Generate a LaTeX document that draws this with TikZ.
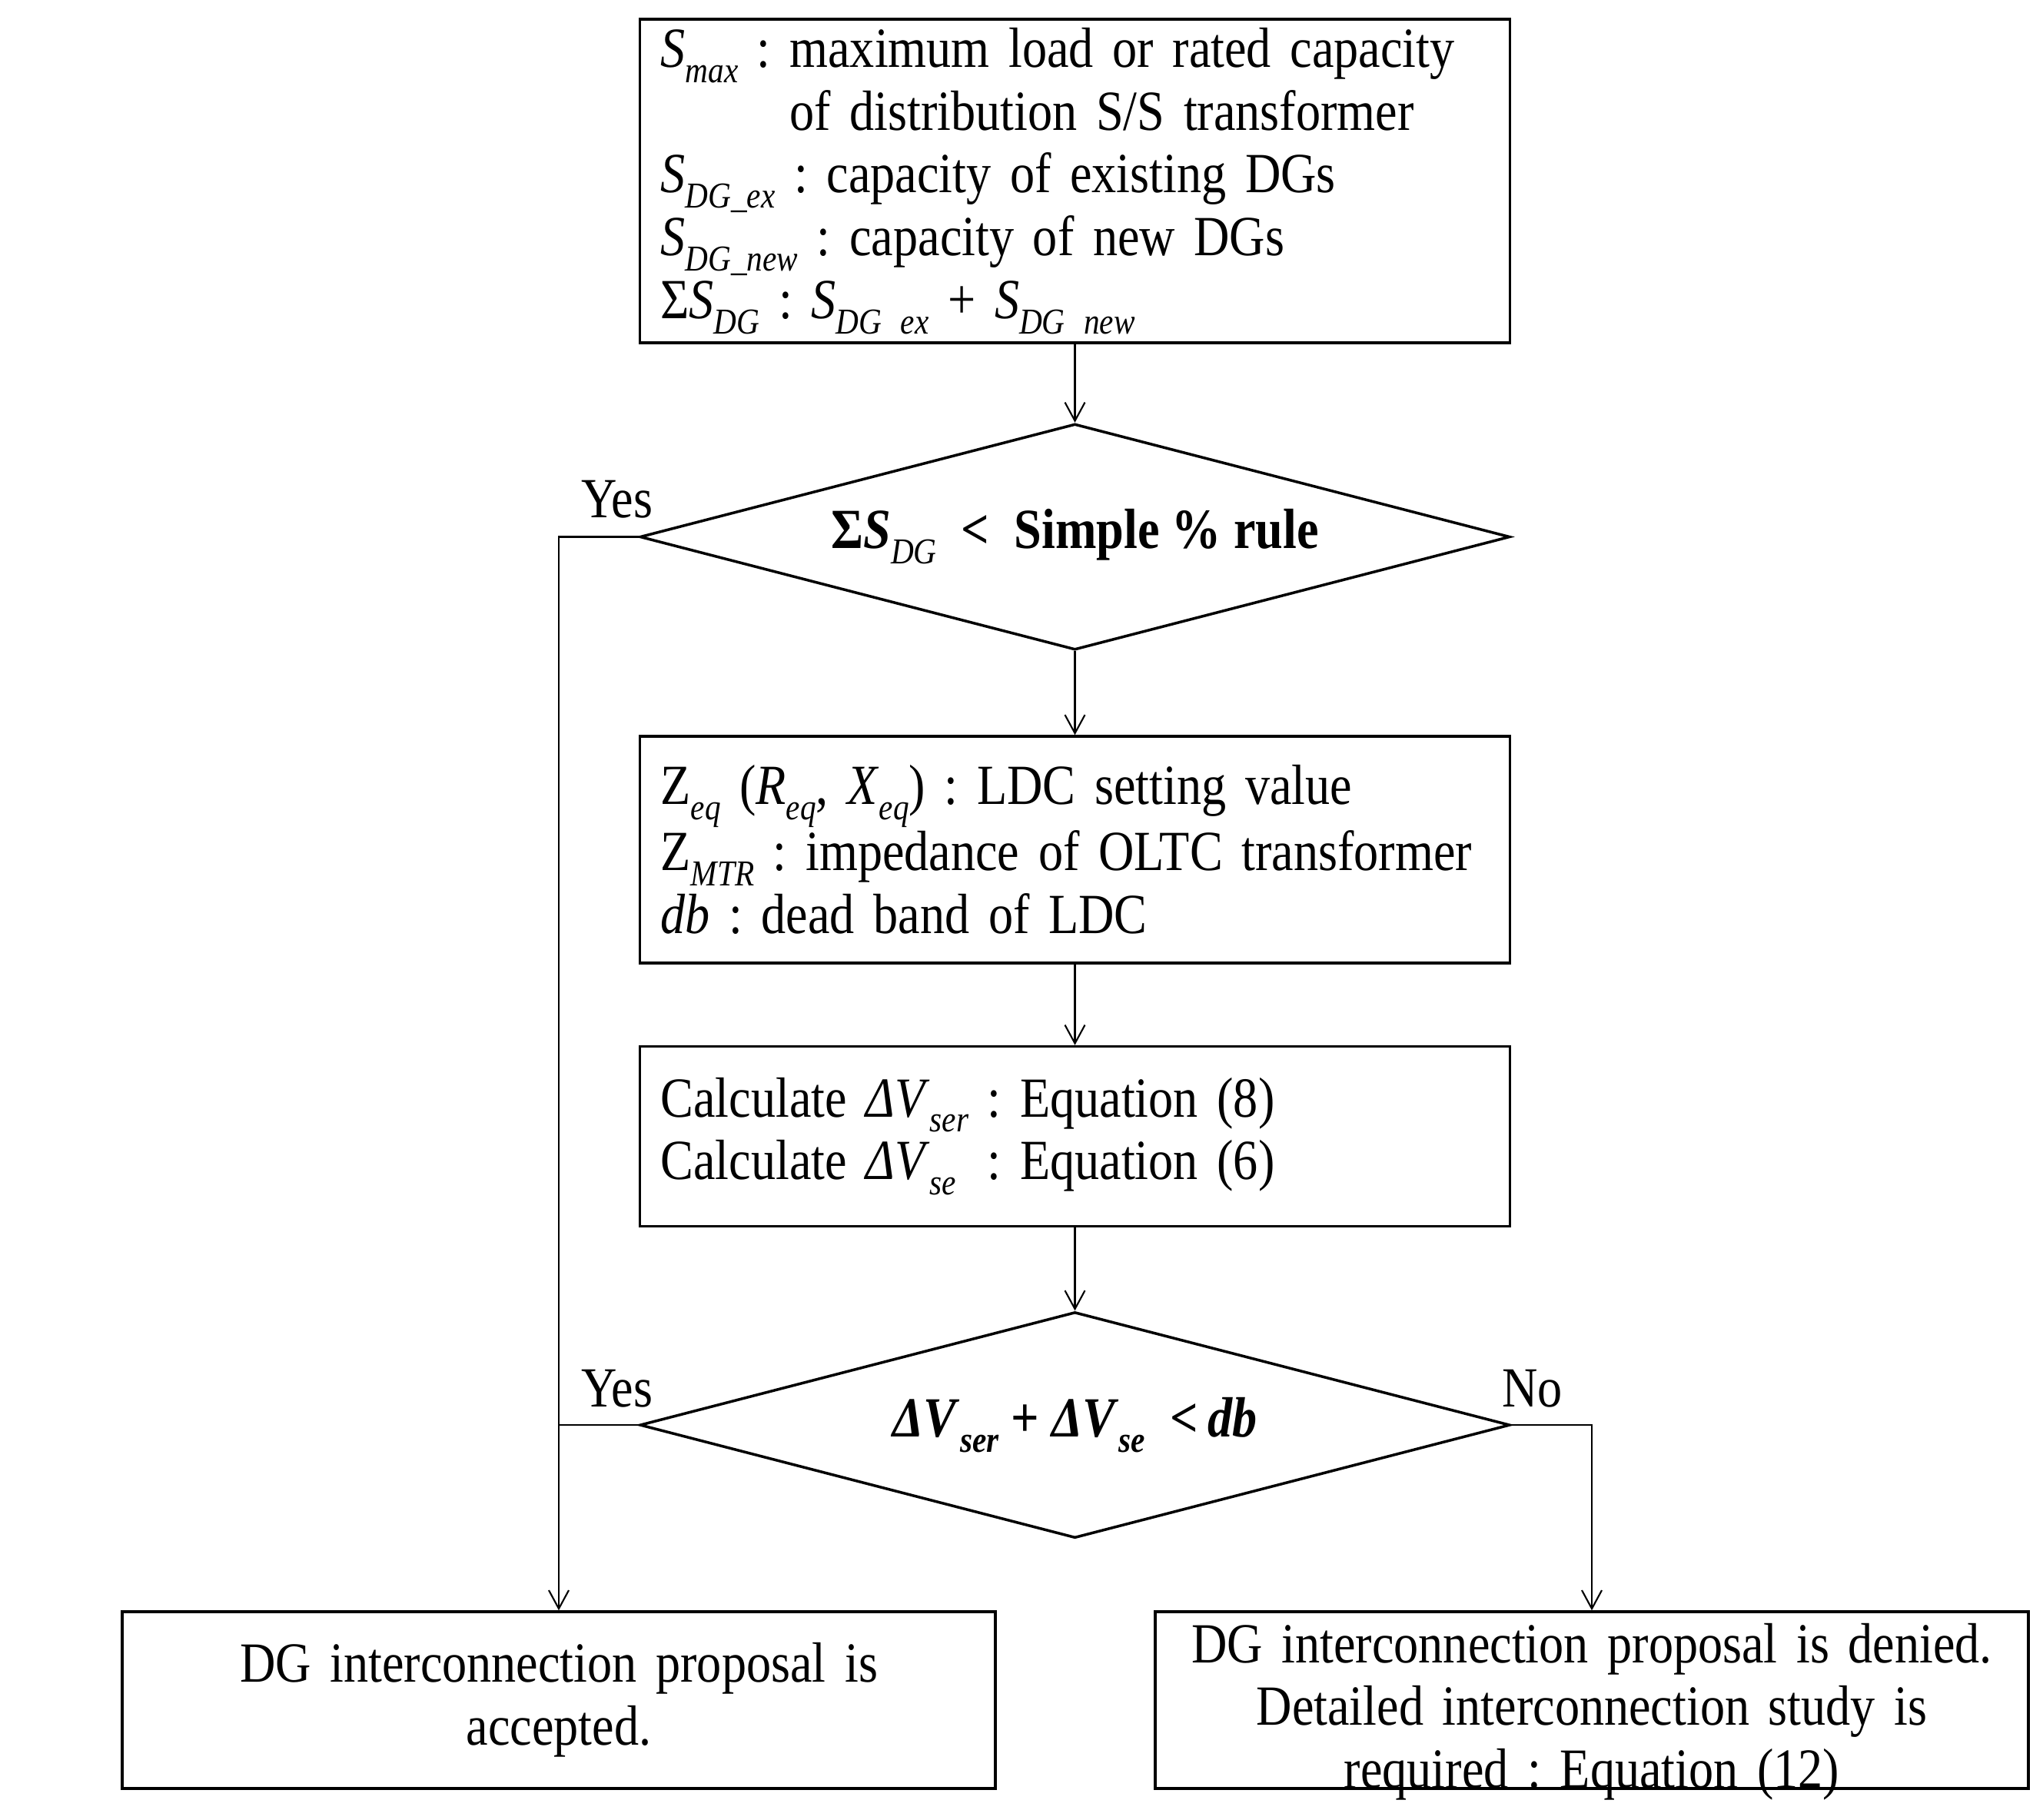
\documentclass[tikz,border=0pt]{standalone}
\usepackage{fontspec}
\setmainfont{Liberation Serif}[FakeStretch=0.87]
\usetikzlibrary{shapes.geometric,arrows.meta,positioning}
% italic subscript, set lower and smaller
\newcommand{\sbs}[1]{\raisebox{-0.27em}{\fontsize{13.5}{13.5}\selectfont\itshape #1}}
\newcommand{\sv}[2]{\textit{#1}\sbs{#2}}
\newcommand{\su}[2]{#1\sbs{#2}}

\begin{document}
\frenchspacing
\spaceskip=4pt plus 1pt minus 1pt
\begin{tikzpicture}[
    node distance=1cm,
    every node/.style={font=\fontsize{21}{23.3}\selectfont},
    box/.style={rectangle, draw, line width=1pt, minimum width=11.32cm, inner xsep=2.7mm, inner ysep=0pt, text width=10.78cm, align=left},
    endbox/.style={rectangle, draw, line width=1pt, minimum width=11.36cm, minimum height=2.30cm, inner sep=0pt, text width=11cm, align=center},
    decision/.style={diamond, draw, line width=1pt, aspect=3.85, minimum width=11.32cm, minimum height=2.94cm, inner sep=0pt},
    arrow/.style={-{Straight Barb[length=2.4mm,width=2.6mm]}, line width=0.6pt},
    line/.style={line width=0.6pt},
    lbl/.style={inner sep=0pt}
]
\useasboundingbox (0,0) rectangle (26.45,-23.67);

% Input data
\node[box, minimum height=4.21cm] (limits) at (13.985,-2.355) {%
\sv{S}{max} : maximum load or rated capacity\\
\hphantom{\sv{S}{max} : }of distribution S/S transformer\\
\sv{S}{DG\_ex} : capacity of existing DGs\\
\sv{S}{DG\_new} : capacity of new DGs\\
Σ\sv{S}{DG} : \sv{S}{DG ex} + \sv{S}{DG new}};

% Simple % rule check
\node[decision, below=1.02cm of limits] (rule) {\textbf{Σ\textit{S}}\sbs{DG} \ \textbf{< \ Simple \% rule}};

% LDC data
\node[box, minimum height=2.95cm, below=1.09cm of rule] (ldc) {%
\su{Z}{eq} (\sv{R}{eq}, \sv{X}{eq}) : LDC setting value\\
\su{Z}{MTR} : impedance of OLTC transformer\\
\textit{db} : dead band of LDC};

% Voltage rise
\node[box, minimum height=2.34cm, below=1.05cm of ldc] (calc) {%
Calculate \sv{ΔV}{ser} : Equation (8)\\
Calculate \sv{ΔV}{se}\hphantom{\sbs{r}} : Equation (6)};

% Dead band check
\node[decision, below=1.08cm of calc] (check) {\textbf{\textit{ΔV}}\sbs{\bfseries ser} \textbf{+} \textbf{\textit{ΔV}}\sbs{\bfseries se} \ \textbf{\textit{<\,db}}};

% Results
\node[endbox] (accept) at (7.27,-22.12) {DG interconnection proposal is\\accepted.};
\node[endbox, text height=0.66cm, text depth=1.64cm, minimum height=0pt] (deny) at (20.71,-22.12) {DG interconnection proposal is denied.\\Detailed interconnection study is\\required : Equation (12)};

% Arrows
\draw[arrow] (limits) -- (rule);
\draw[arrow] (rule) -- (ldc);
\draw[arrow] (ldc) -- (calc);
\draw[arrow] (calc) -- (check);
\draw[arrow] (rule.west) -| (accept);
\draw[line] (check.west) -- (check.west -| accept);
\draw[arrow] (check.east) -| (deny);

% Branch labels
\node[lbl] (yes1) at ([xshift=-2.8mm, yshift=4.9mm]rule.west) {Yes};
\node[lbl] (yes2) at ([xshift=-2.8mm, yshift=4.7mm]check.west) {Yes};
\node[lbl] (no) at ([xshift=2.7mm, yshift=4.7mm]check.east) {No};

\end{tikzpicture}
\end{document}
